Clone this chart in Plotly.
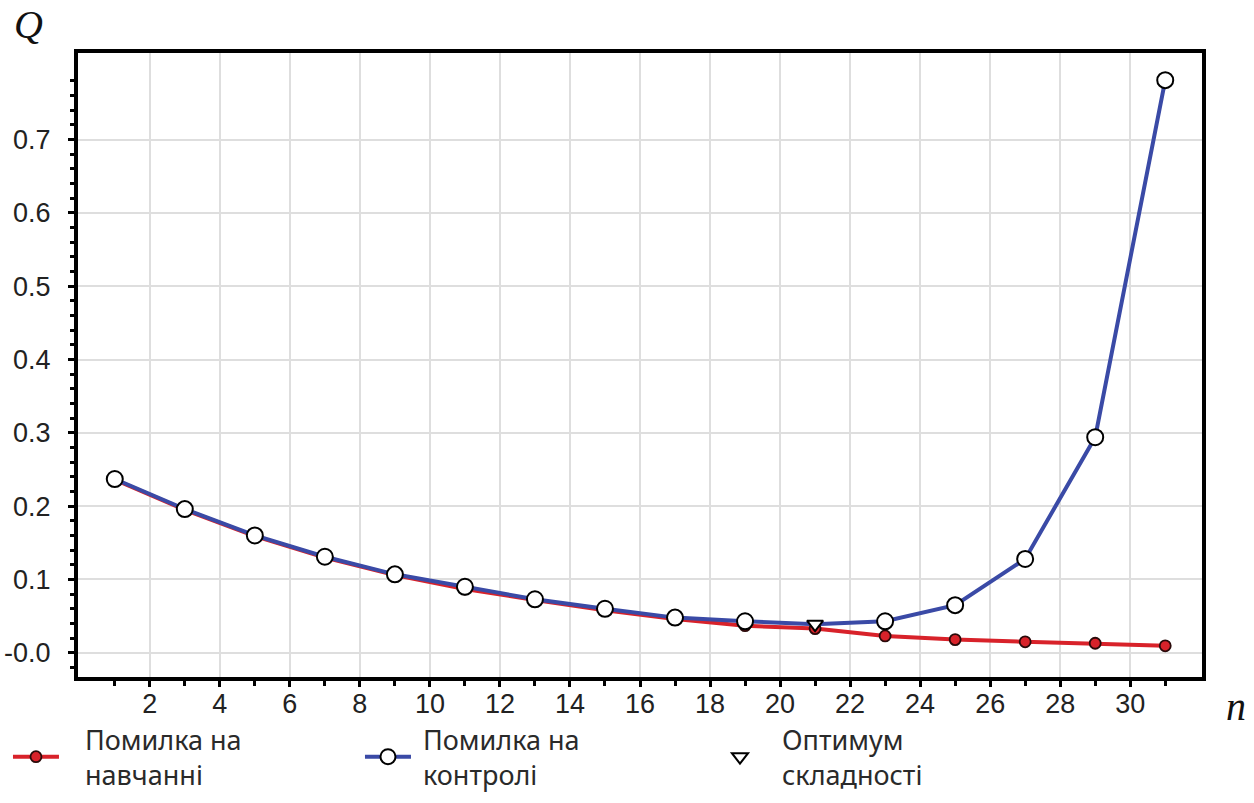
import plotly.graph_objects as go

n_values = [1, 3, 5, 7, 9, 11, 13, 15, 17, 19, 21, 23, 25, 27, 29, 31]
train_error = [0.236, 0.195, 0.159, 0.130, 0.106, 0.087, 0.072, 0.058, 0.046, 0.037,
               0.033, 0.023, 0.018, 0.015, 0.013, 0.0095]
control_error = [0.237, 0.196, 0.160, 0.131, 0.107, 0.090, 0.073, 0.060, 0.048, 0.043,
                 0.039, 0.043, 0.065, 0.128, 0.294, 0.781]
optimum_n = [21]
optimum_q = [0.039]

x_tick_vals = list(range(2, 31, 2))
x_minor_vals = list(range(1, 32, 2))
y_tick_vals = [0.0, 0.1, 0.2, 0.3, 0.4, 0.5, 0.6, 0.7]
y_tick_text = ["-0.0", "0.1", "0.2", "0.3", "0.4", "0.5", "0.6", "0.7"]
y_minor_vals = [round(i * 0.02, 2) for i in range(-1, 40) if i % 5 != 0]

legend_names = ["&nbsp;&nbsp;&nbsp;Помилка на<br>&nbsp;&nbsp;&nbsp;навчанні",
                "&nbsp;Помилка на<br>&nbsp;контролі",
                "&nbsp;&nbsp;Оптимум<br>&nbsp;&nbsp;складності"]

# hide the control marker where the optimum triangle is drawn
control_marker_sizes = [0 if n in optimum_n else 16 for n in n_values]

fig = go.Figure()
fig.add_trace(go.Scatter(
    x=n_values, y=train_error, mode="lines+markers", name=legend_names[0],
    line=dict(color="#d8222a", width=4),
    marker=dict(size=11, color="#d8222a", opacity=1, line=dict(color="#2a0a0a", width=1.8)),
))
fig.add_trace(go.Scatter(
    x=n_values, y=control_error, mode="lines+markers", name=legend_names[1],
    line=dict(color="#3a4aa6", width=4),
    marker=dict(size=control_marker_sizes, color="white", opacity=1,
                line=dict(color="black", width=2)),
))
fig.add_trace(go.Scatter(
    x=optimum_n, y=optimum_q, mode="markers", name=legend_names[2],
    marker=dict(symbol="triangle-down", size=14, color="white", opacity=1,
                line=dict(color="black", width=2)),
))

fig.update_layout(
    width=1254, height=803,
    margin=dict(l=78, r=52, t=53, b=126, autoexpand=False),
    paper_bgcolor="white", plot_bgcolor="white",
    font=dict(family="Liberation Sans, Arial", size=27, color="#222"),
    showlegend=True,
    legend=dict(
        orientation="h", x=-0.0623, y=-0.061, xanchor="left", yanchor="top",
        font=dict(family="Noto Sans", size=27, color="#2a2a2a"),
        entrywidth=291, entrywidthmode="pixels", itemwidth=46,
        bgcolor="rgba(0,0,0,0)",
    ),
    xaxis=dict(
        range=[-0.05, 32.05], tickmode="array", tickvals=x_tick_vals,
        showgrid=True, gridcolor="#dedede", gridwidth=1.5,
        showline=True, linecolor="black", linewidth=4, mirror=True,
        ticks="outside", ticklen=6, tickwidth=3, tickcolor="black",
        ticklabelstandoff=-6,
        minor=dict(tickmode="array", tickvals=x_minor_vals, ticks="outside",
                   ticklen=5, tickwidth=3, tickcolor="black", showgrid=False),
        zeroline=False, tickfont=dict(size=27, family="Liberation Sans, Arial"),
        automargin=False,
    ),
    yaxis=dict(
        range=[-0.033, 0.818], tickmode="array", tickvals=y_tick_vals, ticktext=y_tick_text,
        showgrid=True, gridcolor="#dedede", gridwidth=1.5,
        showline=True, linecolor="black", linewidth=4, mirror=True,
        ticks="outside", ticklen=6, tickwidth=3, tickcolor="black",
        ticklabelstandoff=12,
        minor=dict(tickmode="array", tickvals=y_minor_vals, ticks="outside",
                   ticklen=4, tickwidth=3, tickcolor="black", showgrid=False),
        zeroline=False, tickfont=dict(size=27, family="Liberation Sans, Arial"),
        automargin=False,
    ),
    annotations=[
        dict(text="<i>Q</i>", xref="paper", yref="paper",
             x=(28 - 78) / 1124, y=(677 - 25) / 624, xanchor="center", yanchor="middle",
             showarrow=False, font=dict(family="Liberation Serif, Times New Roman", size=40, color="#111")),
        dict(text="<i>n</i>", xref="paper", yref="paper",
             x=(1236 - 78) / 1124, y=(677 - 706) / 624, xanchor="center", yanchor="middle",
             showarrow=False, font=dict(family="Liberation Serif, Times New Roman", size=40, color="#111")),
    ],
)

fig.write_html("out.html")
